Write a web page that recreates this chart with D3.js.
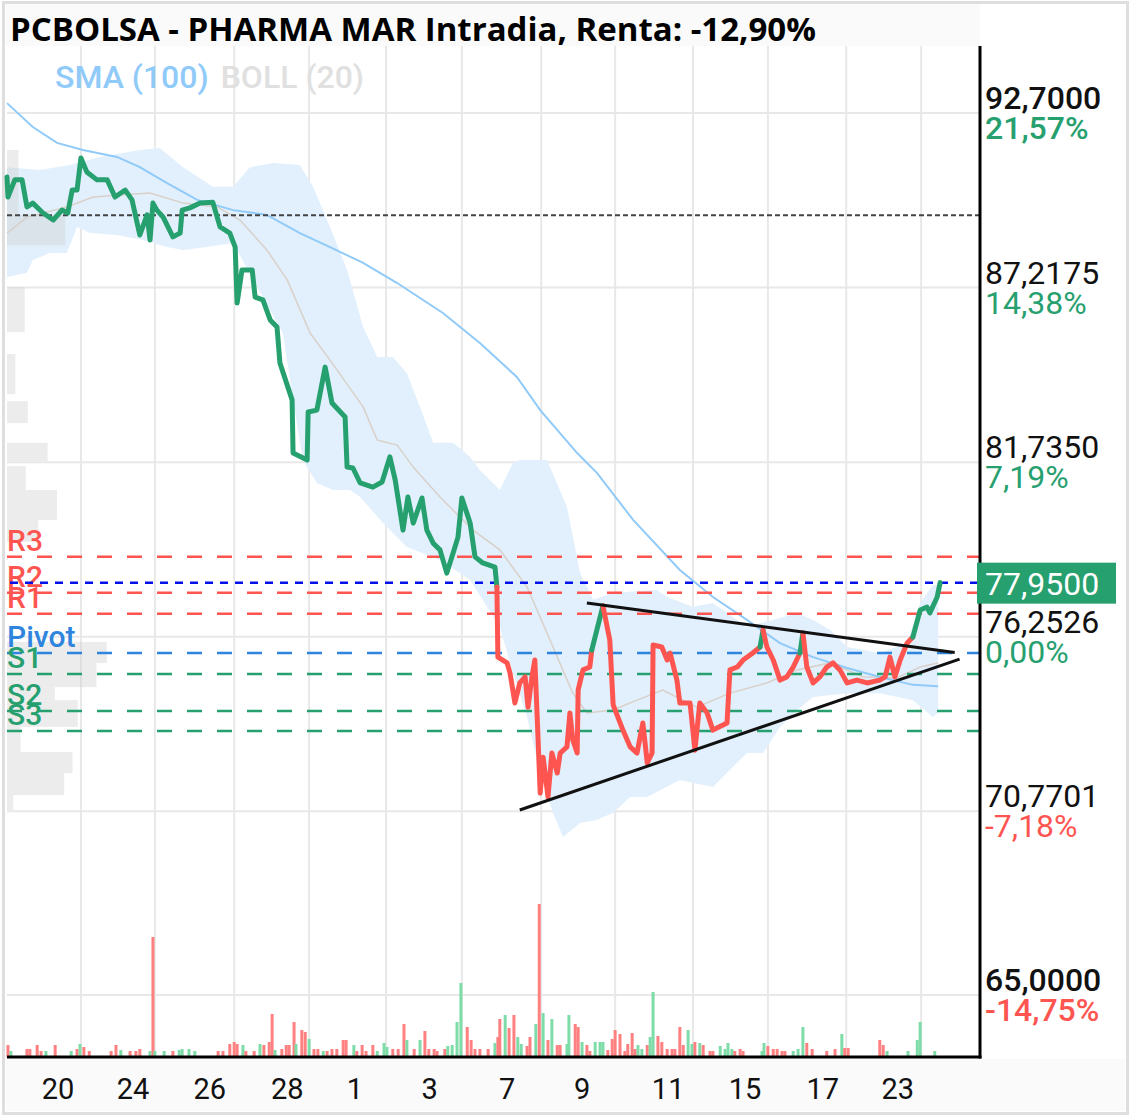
<!DOCTYPE html>
<html>
<head>
<meta charset="utf-8">
<script src="https://cdn.jsdelivr.net/npm/d3@7/dist/d3.min.js"></script>
<style>
  html, body { margin: 0; padding: 0; background: #fff; }
  svg { display: block; font-family: Roboto, "Open Sans", sans-serif; }
</style>
</head>
<body>
<div id="grafico"></div>
<script>
// Datos. t = índice de barra intradía (0..200)
const titulo = "PCBOLSA - PHARMA MAR Intradia, Renta: -12,90%";
const nivelesPrecio = [92.7, 87.2175, 81.735, 76.2526, 70.7701, 65.0];
const etiquetasPct = ["21,57%", "14,38%", "7,19%", "0,00%", "-7,18%", "-14,75%"];
const precioActual = 77.95;
const precioReferencia = 89.49;

const diasEtiqueta = ["20", "24", "26", "28", "1", "3", "7", "9", "11", "15", "17", "23"];
const diasPosicion = [10.5, 25.9, 41.7, 57.6, 71.5, 86.9, 102.8, 118.2, 135.9, 151.7, 167.7, 183.1];
const cortesSesion = [15.2, 30.4, 46.7, 62.1, 77.9, 93.5, 109.8, 125.0, 141.0, 156.4, 172.5, 187.9];

const pivotNombres = ["R3", "R2", "R1", "Pivot", "S1", "S2", "S3"];
const pivotValores = [78.76, 77.63, 76.97, 75.74, 75.08, 73.92, 73.29];
const pivotTipo = ["r", "r", "r", "p", "s", "s", "s"];

// cotización [t, precio]
const precio = [
  [0,90.69],[0.2,90.06],[1.6,90.60],[3.1,90.60],[4.1,89.75],[5.3,89.87],[7.4,89.56],[9.5,89.34],
  [11.3,89.65],[12.5,89.56],[13.4,90.28],[14.4,90.28],[15.2,91.29],[16.4,90.85],[18.5,90.60],
  [20.6,90.60],[22.2,90.06],[24.3,90.28],[25.7,89.97],[27.3,88.87],[28.8,89.50],[29.4,88.71],
  [30.0,89.87],[30.8,89.65],[32.1,89.43],[34.1,88.81],[35.6,88.93],[36.0,89.65],[37.6,89.72],
  [39.7,89.87],[42.3,89.90],[43.8,89.12],[45.8,88.93],[46.9,88.49],[47.3,86.73],[48.3,87.77],
  [50.4,87.77],[51.0,86.92],[52.6,86.83],[54.1,86.20],[55.5,85.98],[56.1,84.85],[58.6,83.69],
  [58.8,82.02],[61.7,81.80],[61.9,83.31],[63.7,83.37],[65.4,84.72],[66.8,83.59],[69.5,83.15],
  [69.9,81.58],[71.1,81.55],[72.6,81.08],[75.2,80.95],[77.1,81.11],[78.7,81.90],[79.8,81.17],
  [81.4,79.60],[82.4,80.64],[83.5,79.82],[85.3,80.61],[86.3,79.60],[87.6,79.19],[89.0,78.98],
  [90.4,78.25],[91.7,78.88],[92.7,79.38],[93.5,80.61],[95.2,79.82],[96.2,78.76],[97.8,78.57],
  [100.3,78.44],[100.7,77.81],[100.9,75.61],[102.8,75.43],[103.4,75.11],[104.4,74.17],[105.4,74.80],
  [106.5,74.99],[107.1,74.04],[107.9,74.99],[108.5,75.52],[108.9,74.04],[109.6,71.34],[110.2,72.47],
  [111.2,71.22],[112.0,72.60],[113.1,71.97],[113.7,72.60],[115.1,72.79],[115.7,73.86],[116.3,73.01],
  [117.2,72.60],[117.4,74.58],[118.4,75.21],[119.8,75.30],[120.2,75.83],[122.5,77.22],[123.9,76.15],
  [124.6,74.11],[126.6,73.32],[128.1,72.79],[129.5,72.60],[130.7,73.54],[131.6,72.29],[132.6,72.60],
  [132.8,75.99],[134.6,75.93],[135.7,75.52],[136.3,75.74],[137.7,74.89],[138.3,74.17],[140.4,74.17],
  [141.4,72.69],[142.4,74.17],[143.9,73.86],[145.1,73.32],[148.0,73.54],[148.6,75.21],[150.1,75.30],
  [151.3,75.52],[153.3,75.74],[154.8,75.93],[155.4,76.46],[156.2,75.93],[157.5,75.52],[158.9,74.89],
  [160.3,74.99],[161.6,75.30],[163.0,75.74],[163.6,76.37],[164.4,75.30],[165.7,74.80],[167.1,74.99],
  [168.5,75.30],[169.8,75.43],[171.2,75.21],[172.7,74.80],[174.7,74.89],[176.8,74.80],[179.4,74.89],
  [180.5,74.99],[181.5,75.61],[182.5,74.99],[183.6,75.52],[185.0,76.05],[186.2,76.24],[187.7,77.09],
  [189.1,77.18],[189.7,77.00],[191.2,77.50],[191.8,77.95]
];
// tramos de la cotización pintados en verde [t inicio, t fin]
const tramosVerdes = [[0, 100.7], [120.2, 122.5], [154.8, 155.4], [163.0, 163.6], [186.2, 191.8]];

const sma100 = [
  [0,93.01],[5.3,92.26],[10.3,91.76],[15.6,91.54],[22.6,91.32],[27.3,91.00],[32.9,90.50],[39.1,89.97],
  [46.5,89.65],[53.4,89.50],[60.2,88.93],[66.4,88.49],[73.2,87.99],[80.2,87.36],[89.6,86.42],
  [97.2,85.48],[104.8,84.41],[109.6,83.37],[117.2,82.02],[121.3,81.39],[128.7,79.92],[138.3,78.35],
  [145.1,77.50],[152.1,76.78],[158.9,76.05],[165.7,75.61],[172.7,75.27],[179.4,74.99],[186.2,74.74],
  [191.4,74.70]
];
const bollSup = [
  [0,91.00],[6.8,90.91],[12.9,91.07],[19.1,91.32],[27.3,91.54],[31.4,91.60],[36.2,91.00],[42.3,90.38],
  [46.5,90.38],[49.9,91.00],[54.7,91.13],[60.2,91.07],[62.9,90.38],[66.4,89.12],[69.9,87.77],
  [73.2,85.98],[76.1,85.04],[79.3,85.04],[82.2,84.53],[84.9,83.47],[87.6,82.34],[91.7,82.34],
  [95.2,81.90],[97.2,81.49],[101.3,80.86],[104.0,81.71],[105.4,81.80],[111.0,81.80],[115.1,80.33],
  [117.8,78.25],[120.5,77.41],[124.6,77.63],[133.6,77.72],[135.7,77.50],[141.0,77.19],[145.1,77.31],
  [152.1,76.56],[157.5,76.78],[162.4,77.00],[165.7,76.78],[169.2,76.46],[172.7,75.93],[179.4,75.74],
  [185.0,76.05],[187.7,77.31],[190.3,77.88],[191.4,77.88]
];
const bollInf = [
  [0,87.55],[4.1,87.68],[5.3,88.08],[8.8,88.30],[12.3,88.30],[14.4,89.12],[17.1,88.93],[22.6,88.87],
  [28.0,88.71],[32.9,88.49],[36.2,88.40],[41.1,88.49],[46.5,88.62],[51.4,87.24],[56.7,85.79],
  [58.8,83.69],[60.8,81.80],[63.7,81.08],[67.0,80.86],[70.5,80.86],[72.6,80.64],[77.3,79.82],
  [82.2,79.07],[89.0,78.66],[95.2,78.03],[101.3,76.56],[104.0,75.11],[106.9,73.73],[109.6,71.97],
  [112.2,70.72],[114.3,69.96],[117.8,70.40],[121.3,70.50],[124.6,70.72],[128.1,71.22],[131.6,71.22],
  [138.3,71.75],[145.1,71.53],[149.2,72.16],[152.1,72.60],[155.4,72.60],[158.9,73.42],[162.4,73.95],
  [165.7,74.36],[172.7,74.48],[179.4,74.48],[186.2,74.26],[190.3,73.73],[191.4,73.86]
];
const bollMedia = [
  [0,88.93],[4.1,89.43],[12.3,89.75],[17.7,90.06],[22.6,90.12],[29.4,90.19],[36.2,89.87],[43.2,89.75],
  [47.9,89.34],[53.4,88.40],[57.6,87.46],[62.3,85.79],[66.4,84.94],[73.2,83.47],[76.1,82.43],
  [80.2,82.27],[83.5,81.58],[89.0,80.64],[95.8,79.60],[101.3,78.98],[106.9,77.81],[111.0,76.37],
  [116.3,74.48],[119.2,73.86],[124.6,73.95],[129.5,74.26],[134.8,74.58],[141.8,74.04],[148.6,74.48],
  [156.2,74.80],[162.4,75.21],[169.2,75.43],[176.0,74.99],[182.9,74.96],[187.7,75.30],[191.4,75.43]
];

// triángulo dibujado a mano
const lineaTecho = [[119.2, 77.31], [194.8, 75.76]];
const lineaSuelo = [[105.4, 70.81], [195.8, 75.55]];

// volumen [t, títulos (miles), 1 = sube / 0 = baja]
const volumen = [
  [0.2,12,0],[0.8,6,1],[4.1,8,0],[4.7,8,0],[6.2,12,0],[7.0,6,0],[8.0,6,1],[9.9,12,0],[13.2,6,1],
  [14.4,8,0],[15.0,13,1],[15.8,10,0],[16.9,6,0],[21.4,6,0],[22.4,12,0],[23.4,7,1],[25.3,6,0],
  [26.5,6,0],[27.3,8,0],[29.4,6,1],[30.0,120,0],[30.4,6,1],[32.3,6,1],[34.1,6,0],[35.4,7,1],
  [36.0,8,1],[37.4,8,1],[38.6,6,1],[43.4,6,0],[44.4,6,0],[45.8,13,0],[46.7,15,0],[47.3,13,0],
  [48.5,12,1],[49.1,6,0],[50.8,6,0],[52.0,13,1],[52.8,12,0],[53.9,15,0],[54.5,43,0],[55.1,7,1],
  [56.5,8,0],[57.4,12,0],[58.0,12,0],[59.0,35,0],[59.4,13,1],[60.6,27,0],[61.3,25,0],[62.1,18,1],
  [63.1,8,0],[63.9,8,0],[65.0,6,1],[65.8,6,0],[66.8,8,0],[67.8,8,0],[69.1,17,0],[69.7,17,0],
  [71.3,12,1],[71.9,6,0],[73.0,12,0],[73.8,6,0],[75.2,12,0],[76.1,6,1],[77.5,14,1],[78.1,10,1],
  [79.3,8,0],[80.4,8,0],[81.6,33,0],[82.2,17,1],[83.7,8,0],[84.9,17,1],[85.9,26,0],[86.7,8,0],
  [87.8,8,0],[88.4,6,0],[90.0,8,0],[90.6,11,1],[91.5,12,1],[92.5,35,1],[93.3,74,1],[94.6,30,0],
  [95.4,17,0],[96.2,8,0],[97.2,8,0],[98.9,8,0],[100.3,14,1],[100.9,20,0],[101.3,38,0],[102.4,42,1],
  [103.2,29,0],[104.2,42,0],[105.0,20,1],[105.7,13,1],[106.9,11,0],[107.5,20,0],[108.7,33,1],
  [109.4,153,0],[110.2,44,1],[111.2,17,0],[112.0,38,1],[113.1,12,0],[113.7,12,0],[115.1,13,1],
  [115.5,42,1],[116.8,33,0],[117.4,30,0],[118.2,15,1],[119.2,12,0],[119.8,6,0],[120.9,15,1],
  [121.9,15,1],[122.5,15,1],[123.5,7,0],[124.4,18,0],[125.0,27,0],[126.0,23,0],[127.0,6,0],
  [127.6,13,0],[128.5,24,0],[129.1,8,0],[129.7,12,1],[130.5,8,1],[131.6,12,0],[132.2,20,1],
  [132.8,65,1],[133.8,21,0],[134.6,15,0],[135.7,8,0],[136.7,8,0],[137.3,8,0],[138.3,30,0],
  [139.0,12,0],[140.0,27,1],[140.8,13,1],[141.4,15,0],[142.4,14,1],[143.1,12,0],[144.5,6,0],
  [145.1,6,0],[146.6,11,1],[147.6,8,1],[148.2,14,1],[149.0,8,1],[149.6,6,0],[150.7,8,0],[151.3,6,0],
  [155.2,6,1],[155.6,14,1],[156.4,11,0],[157.5,8,0],[158.3,8,0],[159.3,6,0],[159.9,6,0],[161.6,6,1],
  [162.6,8,1],[163.6,30,1],[164.4,14,0],[165.5,8,0],[168.5,6,0],[170.2,8,0],[171.6,23,1],[172.2,9,0],
  [172.9,9,0],[179.4,17,0],[180.1,12,0],[180.9,6,1],[185.2,6,1],[187.1,17,1],[187.7,35,1],[190.7,6,1]
];

// perfil de volumen por precio [desde, hasta, volumen]
const perfilVolumen = [
  [91.54,89.50,11],[89.50,88.55,56],[87.23,85.82,17],[85.13,83.87,8],[83.65,82.96,20],
  [82.34,81.77,39],[81.61,80.86,18],[80.86,79.92,48],[79.92,79.23,30],[76.09,75.43,96],
  [75.43,74.67,86],[74.67,74.26,46],[74.26,73.42,68],[73.42,72.63,13],[72.63,71.97,63],
  [71.97,71.28,55],[71.28,70.81,6]
];

const VERDE = "#27a06f", ROJO = "#ff5551", AZUL_PIVOT = "#2f84de";
const W = 1133, H = 1118;
const izq = 7, der = 980, arriba = 46, abajo = 1057;

const svg = d3.select("#grafico").append("svg")
  .attr("width", W).attr("height", H);

const x = d3.scaleLinear().domain([0, 200]).range([izq, der]);
const y = d3.scaleLinear().domain([65, 92.7]).range([995, 113]);
const yVol = d3.scaleLinear().domain([0, 150]).range([abajo, abajo - 150]);
const wPerfil = d3.scaleLinear().domain([0, 100]).range([0, 104]);

// fondos: marco, barra de título, barra de fechas
svg.append("rect").attr("x", 3.5).attr("y", 2.5).attr("width", 1124).attr("height", 1111)
  .attr("fill", "#fff").attr("stroke", "#dedede").attr("stroke-width", 3);
svg.append("rect").attr("x", izq - 1).attr("y", 4).attr("width", der - izq + 1).attr("height", arriba - 4)
  .attr("fill", "#fafafa");
svg.append("rect").attr("x", izq - 1).attr("y", abajo + 2).attr("width", 1126 - izq).attr("height", 1111 - abajo - 2)
  .attr("fill", "#fafafa");

// rejilla
const rejilla = svg.append("g").attr("stroke", "#e8e8e8").attr("stroke-width", 2);
rejilla.selectAll(".h").data(nivelesPrecio).join("line")
  .attr("x1", izq).attr("x2", der).attr("y1", d => y(d)).attr("y2", d => y(d));
rejilla.selectAll(".v").data(cortesSesion).join("line")
  .attr("x1", d => x(d)).attr("x2", d => x(d)).attr("y1", arriba).attr("y2", abajo);

// bandas de Bollinger
const lineaXY = d3.line().x(d => x(d[0])).y(d => y(d[1]));
svg.append("path")
  .attr("d", lineaXY(bollSup.concat(bollInf.slice().reverse())) + "Z")
  .attr("fill", "#e1f0fc");
svg.append("path").attr("d", lineaXY(bollMedia))
  .attr("fill", "none").attr("stroke", "#d9d0c9").attr("stroke-width", 1.5);

// perfil de volumen
svg.append("g").selectAll("rect").data(perfilVolumen).join("rect")
  .attr("x", izq).attr("y", d => y(d[0]))
  .attr("width", d => wPerfil(d[2])).attr("height", d => y(d[1]) - y(d[0]))
  .attr("fill", "#cfcfcf").attr("opacity", 0.4);

// media móvil
svg.append("path").attr("d", lineaXY(sma100))
  .attr("fill", "none").attr("stroke", "#90caf9").attr("stroke-width", 2);

// volumen
svg.append("g").selectAll("rect").data(volumen).join("rect")
  .attr("x", d => x(d[0]) - 1.5).attr("width", 3)
  .attr("y", d => yVol(d[1])).attr("height", d => abajo - yVol(d[1]))
  .attr("fill", d => d[2] ? "#7edca8" : "#ff8080");

// precio de referencia (inicio del periodo)
svg.append("line").attr("x1", izq).attr("x2", der)
  .attr("y1", y(precioReferencia)).attr("y2", y(precioReferencia))
  .attr("stroke", "#444").attr("stroke-width", 2).attr("stroke-dasharray", "5,3");

// pivotes
const colorPivot = { r: ROJO, p: AZUL_PIVOT, s: VERDE };
const gPiv = svg.append("g");
gPiv.selectAll("line").data(pivotValores).join("line")
  .attr("x1", izq).attr("x2", der)
  .attr("y1", d => y(d)).attr("y2", d => y(d))
  .attr("stroke", (d, i) => colorPivot[pivotTipo[i]]).attr("stroke-width", 2.5)
  .attr("stroke-dasharray", "15,15");

// precio actual
svg.append("line").attr("x1", izq + 3).attr("x2", der)
  .attr("y1", y(precioActual)).attr("y2", y(precioActual))
  .attr("stroke", "#0010e8").attr("stroke-width", 2.5).attr("stroke-dasharray", "8,7");

gPiv.selectAll("text").data(pivotValores).join("text")
  .attr("x", izq).attr("y", d => y(d) - 6)
  .attr("fill", (d, i) => colorPivot[pivotTipo[i]])
  .attr("font-size", 30).attr("font-weight", 500)
  .text((d, i) => pivotNombres[i]);

// cotización, por tramos de color
const esVerde = (a, b) => tramosVerdes.some(r => a[0] >= r[0] && b[0] <= r[1]);
const tramos = [];
for (let i = 0; i < precio.length - 1; i++) {
  const c = esVerde(precio[i], precio[i + 1]) ? VERDE : ROJO;
  const ult = tramos[tramos.length - 1];
  if (ult && ult.color === c) ult.puntos.push(precio[i + 1]);
  else tramos.push({ color: c, puntos: [precio[i], precio[i + 1]] });
}
svg.append("g").selectAll("path").data(tramos).join("path")
  .attr("d", d => lineaXY(d.puntos))
  .attr("fill", "none").attr("stroke", d => d.color)
  .attr("stroke-width", 5).attr("stroke-linejoin", "round").attr("stroke-linecap", "round");

// triángulo
svg.append("g").selectAll("path").data([lineaTecho, lineaSuelo]).join("path")
  .attr("d", lineaXY).attr("stroke", "#111").attr("stroke-width", 3).attr("fill", "none");

// ejes
svg.append("line").attr("x1", der).attr("x2", der).attr("y1", arriba).attr("y2", abajo + 1.5)
  .attr("stroke", "#000").attr("stroke-width", 3);
svg.append("line").attr("x1", izq).attr("x2", der + 1.5).attr("y1", abajo).attr("y2", abajo)
  .attr("stroke", "#000").attr("stroke-width", 3);

// etiquetas del eje de precios
const gEje = svg.append("g").attr("font-size", 32);
nivelesPrecio.forEach((v, i) => {
  const extremo = i === 0 || i === nivelesPrecio.length - 1;
  gEje.append("text").attr("x", 985).attr("y", y(v) - 4)
    .attr("fill", "#111").attr("font-weight", extremo ? 500 : 400)
    .text(v.toFixed(4).replace(".", ","));
  gEje.append("text").attr("x", 985).attr("y", y(v) + 26)
    .attr("fill", etiquetasPct[i].startsWith("-") ? ROJO : VERDE)
    .attr("font-weight", extremo ? 500 : 400)
    .text(etiquetasPct[i]);
});
// recuadro del último precio
svg.append("rect").attr("x", 977).attr("y", y(precioActual) - 20).attr("width", 139).attr("height", 41)
  .attr("fill", VERDE);
svg.append("text").attr("x", 985).attr("y", y(precioActual) + 12)
  .attr("fill", "#fff").attr("font-size", 32)
  .text(precioActual.toFixed(4).replace(".", ","));

// eje de fechas
svg.append("g").selectAll("text").data(diasEtiqueta).join("text")
  .attr("x", (d, i) => x(diasPosicion[i])).attr("y", 1099)
  .attr("text-anchor", "middle").attr("font-size", 29).attr("fill", "#111")
  .text(d => d);

// título y leyenda
svg.append("text").attr("x", 10).attr("y", 41)
  .attr("font-family", "'Open Sans', sans-serif").attr("font-weight", 700).attr("font-size", 33)
  .attr("fill", "#000").text(titulo);
const ley1 = svg.append("text").attr("x", 55).attr("y", 88)
  .attr("font-size", 32).attr("font-weight", 500).attr("fill", "#90caf9").text("SMA (100)");
const anchoLey = ley1.node().getComputedTextLength();
svg.append("text").attr("x", 55 + anchoLey + 12).attr("y", 88)
  .attr("font-size", 32).attr("font-weight", 500).attr("fill", "#e0e0e0").text("BOLL (20)");
</script>
</body>
</html>
